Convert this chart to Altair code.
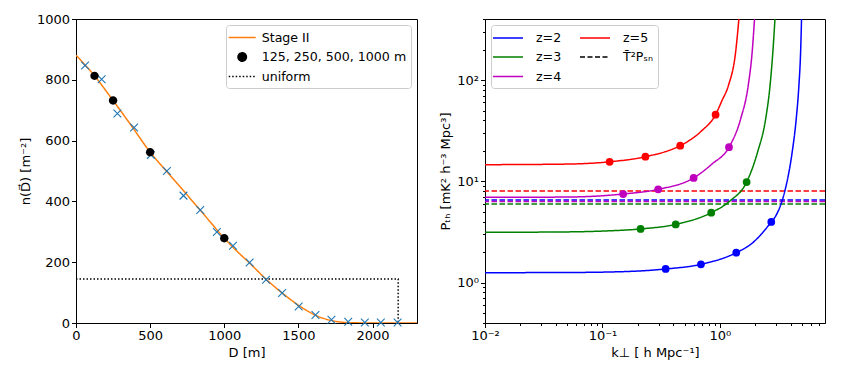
import altair as alt
import pandas as pd

# ---------------- Left panel data ----------------
curve_D = [0, 125, 250, 375, 500, 625, 750, 875, 1000, 1063, 1171, 1289, 1400, 1514, 1626, 1739, 1851, 2000, 2300]
curve_n = [881, 813, 732, 648, 562, 491, 421, 350, 279, 247, 197, 141, 95, 54, 23, 6.6, 1, 0, 0]
cross_D = [61, 173, 279, 392, 505, 613, 725, 838, 950, 1059, 1171, 1282, 1390, 1502, 1615, 1723, 1836, 1948, 2056, 2169]
cross_n = [847, 802, 689, 643, 553, 500, 419, 372, 299, 254, 199, 142, 99, 54, 26, 11, 4, 2, 2, 2]
dot_D = [125, 250, 500, 1000]
dot_n = [813, 732, 562, 279]
uni_D = [0, 2173, 2173]
uni_n = [145, 145, 0]

left_names = ["Stage II", "125, 250, 500, 1000 m", "uniform"]
left_colors = ["#ff7f0e", "black", "black"]

# ---------------- Right panel data ----------------
z_labels = ["z=2", "z=3", "z=4", "z=5"]
z_colors = ["#0000ff", "#008000", "#bf00bf", "#ff0000"]
k_z2 = [0.01, 0.05, 0.15, 0.345, 0.689, 1.377, 1.88, 2.735, 2.93, 3.39, 3.66, 4.12, 4.46, 4.70, 4.86, 4.95]
P_z2 = [1.255, 1.26, 1.285, 1.365, 1.517, 1.977, 2.45, 3.97, 4.4, 6.5, 9.07, 19.4, 41.3, 88, 188, 400]
k_z3 = [0.01, 0.05, 0.1, 0.211, 0.42, 0.843, 1.216, 1.687, 2.09, 2.45, 2.67, 2.82, 2.94]
P_z3 = [3.14, 3.17, 3.23, 3.39, 3.76, 4.91, 6.4, 9.85, 19.4, 41.3, 88, 188, 400]
k_z4 = [0.01, 0.05, 0.15, 0.298, 0.597, 0.86, 1.194, 1.50, 1.74, 1.88, 1.97]
P_z4 = [6.95, 7.0, 7.5, 8.34, 10.8, 14.9, 21.7, 41.3, 88, 188, 400]
k_z5 = [0.01, 0.05, 0.115, 0.232, 0.459, 0.545, 0.703, 0.918, 1.04, 1.18, 1.36, 1.45]
P_z5 = [14.6, 14.8, 15.6, 17.5, 22.5, 25.2, 31.7, 45.5, 62.6, 88, 189, 400]
dots_k = [[0.345, 0.689, 1.377, 2.735], [0.211, 0.42, 0.843, 1.687],
          [0.15, 0.298, 0.597, 1.194], [0.115, 0.232, 0.459, 0.918]]
dots_P = [[1.365, 1.517, 1.977, 3.97], [3.39, 3.76, 4.91, 9.85],
          [7.5, 8.34, 10.8, 21.7], [15.6, 17.5, 22.5, 45.5]]
psn_vals = [6.55, 5.98, 6.32, 8.04]

sn_label = "T\u0304\u00b2P\u209b\u2099"
right_legend_order = ["z=2", "z=3", "z=4", "z=5", sn_label]
right_legend_colors = ["#0000ff", "#008000", "#bf00bf", "#ff0000", "black"]
right_legend_dash = [[1, 0], [1, 0], [1, 0], [1, 0], [5, 2.5]]

x_ticks = [0.01, 0.02, 0.03, 0.04, 0.05, 0.06, 0.07, 0.08, 0.09,
           0.1, 0.2, 0.3, 0.4, 0.5, 0.6, 0.7, 0.8, 0.9,
           1, 2, 3, 4, 5, 6, 7]
y_ticks = [0.4, 0.5, 0.6, 0.7, 0.8, 0.9,
           1, 2, 3, 4, 5, 6, 7, 8, 9,
           10, 20, 30, 40, 50, 60, 70, 80, 90,
           100, 200, 300, 400]

FONT = "DejaVu Sans"
FS = 13
LFS = 12.6
LINE_L = "M-1.8,0L1.8,0"
DOT_L = "M-0.56,0A0.56,0.56 0 1,0 0.56,0A0.56,0.56 0 1,0 -0.56,0Z"
LINE_R = "M-2,0L2,0"

# ---------------- Left chart ----------------
curve_left = pd.DataFrame({"D": curve_D, "n": curve_n, "series": ["Stage II"] * len(curve_D),
                           "order": list(range(len(curve_D)))})
uni_left = pd.DataFrame({"D": uni_D, "n": uni_n, "series": ["uniform"] * len(uni_D),
                         "order": list(range(len(uni_D)))})
dots_left = pd.DataFrame({"D": dot_D, "n": dot_n, "series": ["125, 250, 500, 1000 m"] * len(dot_D)})
cross_left = pd.DataFrame({"D": cross_D, "n": cross_n})

xL = alt.X("D:Q", scale=alt.Scale(domain=[0, 2300], nice=False),
           axis=alt.Axis(values=[0, 500, 1000, 1500, 2000], format="d", title="D [m]", labelFlush=False))
yL = alt.Y("n:Q", scale=alt.Scale(domain=[0, 1000], nice=False),
           axis=alt.Axis(values=[0, 200, 400, 600, 800, 1000], format="d", title="n(D\u20d7)   [m\u207b\u00b2]"))

leg_left = alt.Legend(title=None, orient="top-right", offset=6, padding=4,
                      strokeColor="#cccccc", fillColor="white", cornerRadius=3,
                      labelFontSize=LFS, labelFont=FONT, rowPadding=3.5, labelOffset=11,
                      symbolSize=225, symbolOffset=3.7, symbolStrokeWidth=1.5, labelLimit=300)
colL = alt.Color("series:N", scale=alt.Scale(domain=left_names, range=left_colors), legend=leg_left)
dashL = alt.StrokeDash("series:N", scale=alt.Scale(domain=left_names, range=[[1, 0], [1, 0], [1.5, 2]]), legend=leg_left)

l_curve = alt.Chart(curve_left).mark_line(strokeWidth=1.5, interpolate="monotone", clip=True).encode(
    x=xL, y=yL, color=colL, strokeDash=dashL, order="order:Q")
l_uni = alt.Chart(uni_left).mark_line(strokeWidth=1.5, clip=True).encode(
    x=xL, y=yL, color=colL, strokeDash=dashL, order="order:Q")
l_cross = alt.Chart(cross_left).mark_point(
    shape="M-1,-1L1,1M-1,1L1,-1", size=60, filled=False, strokeWidth=1.1, color="#1f77b4", opacity=1
).encode(x=xL, y=yL)
l_dots = alt.Chart(dots_left).mark_point(filled=True, opacity=1, size=225).encode(
    x=xL, y=yL, color=colL,
    shape=alt.Shape("series:N", scale=alt.Scale(domain=left_names, range=[LINE_L, DOT_L, LINE_L]), legend=leg_left),
)
left = alt.layer(l_curve, l_uni, l_cross, l_dots).properties(width=341, height=304)

# ---------------- Right chart ----------------
rows = []
for lab, ks, Ps in zip(z_labels, [k_z2, k_z3, k_z4, k_z5], [P_z2, P_z3, P_z4, P_z5]):
    for i, (k, P) in enumerate(zip(ks, Ps)):
        rows.append({"k": k, "P": P, "lbl": lab, "i": i})
curves = pd.DataFrame(rows)
drows = []
for lab, col, ks, Ps in zip(z_labels, z_colors, dots_k, dots_P):
    for k, P in zip(ks, Ps):
        drows.append({"k": k, "P": P, "hex": col})
dots = pd.DataFrame(drows)
psn = pd.DataFrame({"P": psn_vals, "hex": z_colors})

major_test = "abs(log(datum.value)/LN10 - round(log(datum.value)/LN10)) < 0.001"
xR = alt.X("k:Q", scale=alt.Scale(type="log", domain=[0.01, 7.84], nice=False),
           axis=alt.Axis(values=x_ticks, title="k\u22a5 [ h Mpc\u207b\u00b9]", labelFlush=False, labelOverlap=False,
                         labelExpr="datum.value == 0.01 ? '10\u207b\u00b2' : datum.value == 0.1 ? '10\u207b\u00b9' : datum.value == 1 ? '10\u2070' : ''",
                         tickSize={"condition": {"test": major_test, "value": 4.5}, "value": 2.5}))
yR = alt.Y("P:Q", scale=alt.Scale(type="log", domain=[0.4, 400], nice=False),
           axis=alt.Axis(values=y_ticks, title="P\u209c\u2095 [mK\u00b2 h\u207b\u00b3 Mpc\u00b3]", labelOverlap=False,
                         labelExpr="datum.value == 1 ? '10\u2070' : datum.value == 10 ? '10\u00b9' : datum.value == 100 ? '10\u00b2' : ''",
                         tickSize={"condition": {"test": major_test, "value": 4.5}, "value": 2.5}))

leg_right = alt.Legend(title=None, orient="top-left", offset=6, padding=4, columns=2, columnPadding=15,
                       strokeColor="#cccccc", fillColor="white", cornerRadius=3,
                       labelFontSize=LFS, labelFont=FONT, rowPadding=3.5, labelOffset=19.5,
                       symbolType=LINE_R, symbolSize=225, symbolOffset=4.5, symbolStrokeWidth=1.5)

r_rules = alt.Chart(psn).mark_rule(strokeDash=[5.5, 2.5], strokeWidth=1.5).encode(
    y=yR, stroke=alt.Stroke("hex:N", scale=None))
r_curves = alt.Chart(curves).mark_line(strokeWidth=1.5, interpolate="monotone", clip=True).encode(
    x=xR, y=yR,
    color=alt.Color("lbl:N", scale=alt.Scale(domain=right_legend_order, range=right_legend_colors), legend=leg_right),
    strokeDash=alt.StrokeDash("lbl:N", scale=alt.Scale(domain=right_legend_order, range=right_legend_dash), legend=leg_right),
    order="i:Q",
)
r_dots = alt.Chart(dots).mark_circle(size=60, opacity=1).encode(
    x=xR, y=yR, fill=alt.Fill("hex:N", scale=None))
right = alt.layer(r_rules, r_curves, r_dots).properties(width=340, height=304)

chart = alt.hconcat(left, right, spacing=21).resolve_scale(
    color="independent", strokeDash="independent", shape="independent"
).resolve_legend(color="independent", strokeDash="independent").properties(
    padding={"left": 10, "top": 4, "right": 5, "bottom": 5}
).configure(font=FONT).configure_view(stroke="black", strokeWidth=1).configure_axis(
    domainColor="black", tickColor="black", labelColor="black", titleColor="black",
    grid=False, labelFontSize=FS, titleFontSize=FS, titleFontWeight="normal",
    labelFont=FONT, titleFont=FONT, tickSize=4.5, labelPadding=2, domainWidth=1, tickWidth=1,
)

chart.save("out.html", embed_options={"renderer": "svg", "actions": False})
